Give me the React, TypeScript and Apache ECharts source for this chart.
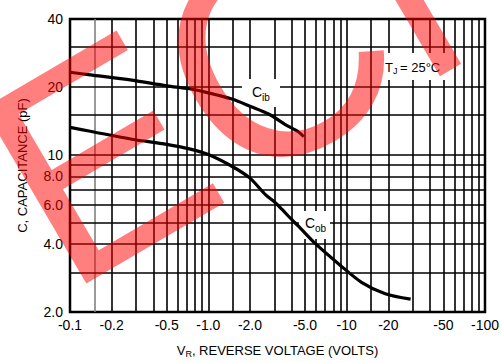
import React, { useEffect, useRef } from "react";
import * as echarts from "echarts";

// Tick labels (reverse voltage magnitudes, capacitance)
const xTickValues = [0.1, 0.2, 0.5, 1, 2, 5, 10, 20, 50, 100];
const yTickValues = [2, 4, 6, 8, 10, 20, 40];

// Grid lines of the log-log paper
const xGridLines = [
  0.2, 0.3, 0.4, 0.5, 0.6, 0.7, 0.8, 0.9, 1,
  1.5, 2, 3, 4, 5, 6, 7, 8, 9, 10,
  15, 20, 30, 40, 50, 60, 70, 80, 90,
];
const xGreyLines = [0.15];
const yGridLines = [3, 4, 5, 6, 7, 8, 9, 10, 15, 20, 30];

// C_ib (input capacitance) vs |V_R|
const cibVolts = [0.1, 0.14, 0.28, 0.5, 0.73, 1.0, 1.5, 2.0, 2.75, 3.6, 4.5, 4.9];
const cibPf = [23.2, 22.6, 21.4, 20.2, 19.6, 18.8, 17.6, 16.4, 15.1, 13.6, 12.6, 12.0];

// C_ob (output capacitance) vs |V_R|
const cobVolts = [0.1, 0.14, 0.28, 0.5, 0.73, 1.0, 1.5, 2.0, 2.6, 3.0, 3.4, 4.0, 4.5, 6.0, 8.8, 12.8, 19, 29];
const cobPf = [13.2, 12.7, 11.7, 11.1, 10.6, 10.0, 8.83, 7.86, 6.62, 6.17, 5.72, 5.15, 4.8, 4.0, 3.26, 2.71, 2.41, 2.28];

const FONT = "'Liberation Sans', Arial, Helvetica, sans-serif";

function fmtX(v: number): string {
  if (v >= 10) return "-" + Math.round(v);
  return "-" + (Math.round(v * 10) / 10).toFixed(1);
}
function fmtY(v: number): string {
  if (v >= 10) return String(Math.round(v));
  return (Math.round(v * 10) / 10).toFixed(1);
}

export default function App() {
  const ref = useRef<HTMLDivElement>(null);

  useEffect(() => {
    if (!ref.current) return;
    const chart = echarts.init(ref.current, undefined, { renderer: "svg" });

    const solid = (color: string) => ({ color, width: 1.6, type: "solid" as const });
    const gridLineData = [
      ...xGridLines.map((v) => ({ xAxis: v, lineStyle: solid("#000") })),
      ...xGreyLines.map((v) => ({ xAxis: v, lineStyle: solid("#808080") })),
      ...yGridLines.map((v) => ({ yAxis: v, lineStyle: solid("#000") })),
    ];

    const rot = 0.53;
    const wx = -Math.sin(rot), wy = -Math.cos(rot);
    const penX = 65.5, penY = 296;
    const fs = 295;
    const mid = fs * 0.3465;

    const txt = (t: string, x: number, y: number, size: number) => ({
      type: "text",
      z: 60,
      silent: true,
      x,
      y,
      style: { text: t, fill: "#000", font: `${size}px ${FONT}`, align: "left", verticalAlign: "middle" },
    });

    chart.setOption({
      animation: false,
      backgroundColor: "#fff",
      textStyle: { fontFamily: FONT },
      grid: {
        left: 70,
        right: 15,
        top: 19,
        bottom: 50,
        show: true,
        borderColor: "#000",
        borderWidth: 2.5,
        backgroundColor: "transparent",
      },
      xAxis: {
        type: "log",
        logBase: 10,
        min: 0.1,
        max: 100,
        name: "{a|V}{s|R}{a|, REVERSE VOLTAGE (VOLTS)}",
        nameLocation: "middle",
        nameGap: 30,
        nameTextStyle: {
          rich: {
            a: { fontSize: 13, color: "#000", fontFamily: FONT, lineHeight: 16 },
            s: { fontSize: 9, color: "#000", fontFamily: FONT, verticalAlign: "bottom", lineHeight: 10 },
          },
        },
        axisLine: { show: false },
        axisTick: { show: false },
        splitLine: { show: false },
        minorSplitLine: { show: false },
        axisLabel: {
          customValues: xTickValues,
          formatter: (v: number) => fmtX(v),
          color: "#000",
          fontSize: 14,
          fontFamily: FONT,
          margin: 6,
          showMinLabel: true,
          showMaxLabel: true,
        },
      },
      yAxis: {
        type: "log",
        logBase: 10,
        min: 2,
        max: 40,
        name: "C, CAPACITANCE (pF)",
        nameLocation: "middle",
        nameGap: 41,
        nameTextStyle: { fontSize: 13, color: "#000", fontFamily: FONT },
        axisLine: { show: false },
        axisTick: { show: false },
        splitLine: { show: false },
        minorSplitLine: { show: false },
        axisLabel: {
          customValues: yTickValues,
          formatter: (v: number) => fmtY(v),
          color: "#000",
          fontSize: 14,
          fontFamily: FONT,
          margin: 7,
          showMinLabel: true,
          showMaxLabel: true,
        },
      },
      series: [
        {
          type: "line",
          name: "grid",
          data: [],
          z: 1,
          silent: true,
          markLine: {
            z: 1,
            silent: true,
            symbol: ["none", "none"],
            label: { show: false },
            emphasis: { disabled: true },
            data: gridLineData,
          },
        },
        {
          type: "line",
          name: "Cib",
          data: cibVolts.map((v, i) => [v, cibPf[i]]),
          smooth: 0.3,
          symbol: "none",
          z: 5,
          lineStyle: { color: "#000", width: 3.2 },
        },
        {
          type: "line",
          name: "Cob",
          data: cobVolts.map((v, i) => [v, cobPf[i]]),
          smooth: 0.3,
          symbol: "none",
          z: 5,
          lineStyle: { color: "#000", width: 3.2 },
        },
      ],
      graphic: [
        { type: "rect", z: 3, silent: true, shape: { x: 242, y: 79, width: 38, height: 28 }, style: { fill: "#fff" } },
        { type: "rect", z: 3, silent: true, shape: { x: 299, y: 211, width: 31, height: 28 }, style: { fill: "#fff" } },
        { type: "rect", z: 3, silent: true, shape: { x: 381, y: 53, width: 70, height: 27 }, style: { fill: "#fff" } },
        txt("C", 252, 92, 14),
        txt("ib", 262, 97, 10),
        txt("C", 305, 223, 14),
        txt("ob", 315, 228, 10),
        txt("T", 385, 67, 13),
        txt("J", 393, 71, 9),
        txt("= 25°C", 400, 67, 13),
        {
          type: "text",
          z: 200,
          silent: true,
          x: penX + mid * wx,
          y: penY + mid * wy,
          rotation: rot,
          style: {
            text: "ECN",
            font: `${fs}px 'Liberation Sans', Arial, sans-serif`,
            fill: "rgba(255,0,0,0.5)",
            align: "left",
            verticalAlign: "middle",
          },
        },
      ],
    });

    return () => chart.dispose();
  }, []);

  return <div ref={ref} style={{ width: 502, height: 363, position: "absolute", left: 0, top: 0 }} />;
}
